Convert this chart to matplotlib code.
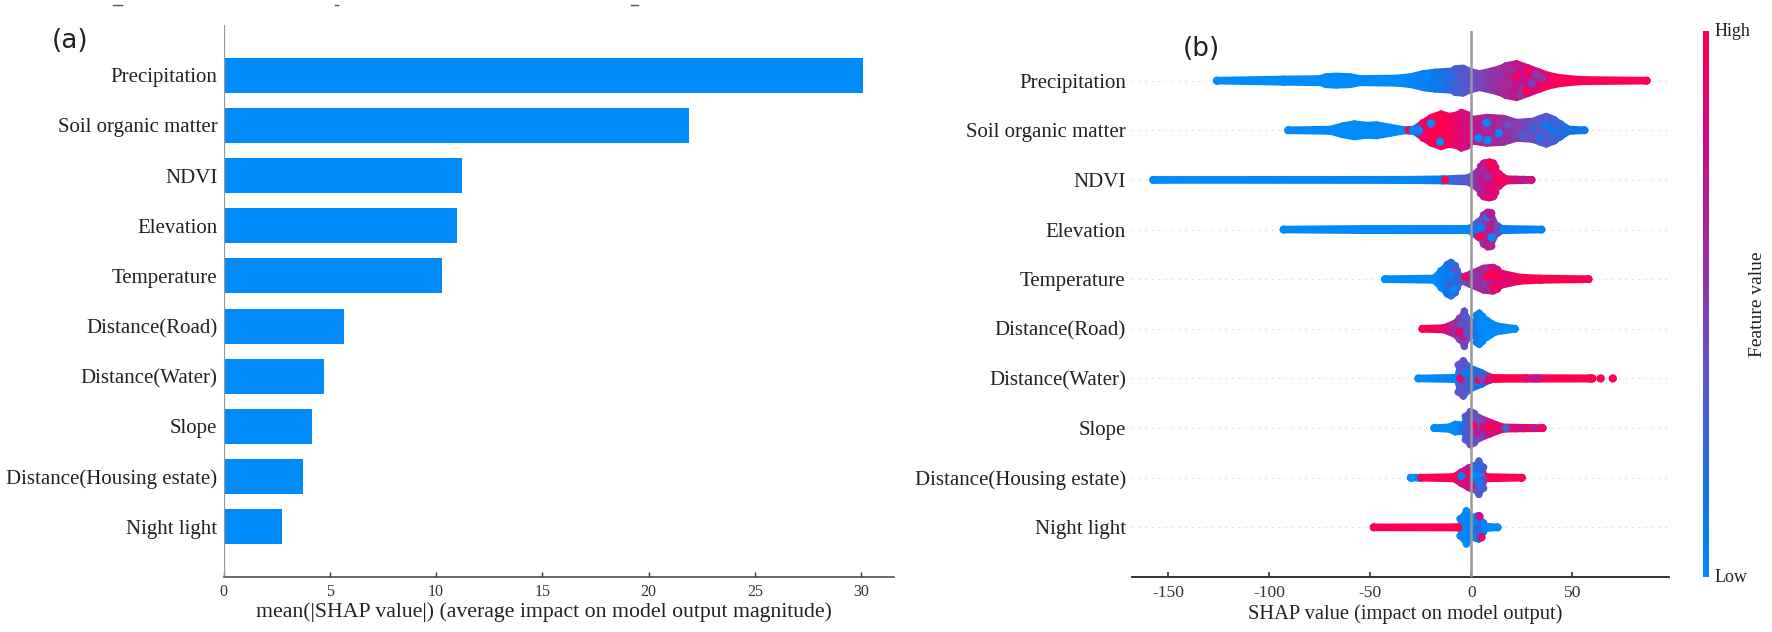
import numpy as np
import matplotlib
matplotlib.use('Agg')
import matplotlib.pyplot as plt
from matplotlib.colors import LinearSegmentedColormap
from matplotlib.cm import ScalarMappable
from matplotlib.lines import Line2D

plt.rcParams['font.family'] = ['Liberation Serif', 'DejaVu Serif']
plt.rcParams['axes.unicode_minus'] = False

W, H = 1772, 632

features = ['Precipitation', 'Soil organic matter', 'NDVI', 'Elevation', 'Temperature',
            'Distance(Road)', 'Distance(Water)', 'Slope', 'Distance(Housing estate)', 'Night light']
mean_shap = [30.1, 21.9, 11.2, 11.0, 10.3, 5.65, 4.75, 4.15, 3.75, 2.77]

# silhouette of each swarm: shap value, half height (px), feature value
precip = [(-126, 3.3, 0), (-93, 4.5, 0), (-75, 5, 0), (-72, 7, 0), (-67, 7.5, 0), (-60, 7, 0), (-55, 5, 0),
          (-37, 5.5, 0), (-30, 7, .03), (-24, 10, .06), (-18, 11.5, .12), (-10, 12.5, .22), (-8, 15, .3), (-4, 15.5, .33),
          (0, 12, .4), (4, 10, .45), (10.5, 13, .55), (14, 15, .62), (17, 18, .65), (22.5, 20, .75), (28, 16, .8),
          (33.7, 11.7, .85), (38, 8.5, .92), (43.8, 6, .97), (54, 4, 1), (86.8, 3.3, 1)]
soil = [(-90.7, 3.3, .02), (-70, 4, 0), (-63.6, 7.5, 0), (-58, 9.5, 0), (-52, 8, 0), (-47, 8.5, 0), (-40, 6, 0),
        (-33, 3.5, 0), (-28.9, 4, .1), (-24, 11, .9), (-20, 16, 1), (-15, 19.5, 1), (-11, 17, .95), (-8, 18, .9),
        (-5, 21, .85), (-2, 19, .8), (1, 14, .72), (7.5, 16, .65), (16, 15, .6), (22.5, 11, .5), (30, 12, .4),
        (34, 15, .35), (37, 17, .33), (41, 14, .28), (44, 10, .22), (48.6, 4, .15), (56, 3.3, .1)]
ndvi = [(-157.5, 3.3, 0), (-32, 3.5, .02), (-14, 4, .1), (-2, 5, .35), (3.4, 12, .6), (4.5, 17, .7), (6, 20, .75),
        (9, 21, .85), (11, 20, .85), (12, 16, .88), (13.5, 10, .9), (17.5, 4, .9), (29.8, 3.3, .8)]
elev = [(-93, 3.3, 0), (-52, 4, 0), (-1.6, 4, .03), (3.4, 11, .35), (6, 18, .6), (8, 20.5, .7), (10, 20, .7), (13, 7, .4),
        (15.5, 4, .08), (34.7, 3.3, .05)]
temp = [(-42.8, 3.3, 0), (-19, 4, 0), (-15, 12, .05), (-12, 18, .15), (-10, 20, .2), (-8, 17, .2), (-7, 12, .2),
        (-4.5, 5, .4), (0, 9, .55), (5.9, 14, .65), (10.8, 15, .75), (13, 13, .8), (15, 9, .85), (24, 5, .95),
        (34, 4, 1), (58, 3.3, 1)]
road = [(-24.3, 3.3, 1), (-14, 4, .9), (-9, 8, .65), (-5.9, 14, .5), (-3.5, 21, .45), (-1, 12, .4), (.7, 8, .2),
        (2.5, 17, .08), (3.9, 19, .05), (5.5, 16, .02), (7.5, 12, 0), (12.5, 6, 0), (21.5, 3.3, 0)]
water = [(-26.3, 3.3, 0), (-8, 4, .05), (-6.5, 17, .35), (-4, 21, .38), (0, 13, .2), (5, 9, .15), (9, 5, .6),
         (10.8, 3.8, 1), (60, 3.5, 1)]
slope = [(-18.4, 3.3, 0), (-11.4, 4, 0), (-8, 7, .02), (-4.7, 6, .1), (-3, 15, .3), (-.5, 20, .4), (1.5, 18, .4), (3.4, 14, .4),
         (9.2, 9, .8), (15.8, 4, .95), (35.3, 3.3, .95)]
housing = [(-30, 3.3, 0), (-25.4, 3.3, 0), (-25, 3.3, 1), (-9, 4, 1), (-5, 9, .8), (-1.5, 13, .7), (1.3, 15, .3),
           (3.7, 20, .3), (6, 14, .3), (7.5, 4, 1), (25, 3.3, 1)]
night = [(-48.4, 3.3, 1), (-6.4, 3.5, 1), (-5.6, 12, .05), (-2.5, 20, 0), (.3, 13, .05), (3.7, 15, .15), (6, 8, .1),
         (7.5, 4, 0), (13, 3.3, 0)]
swarms = [precip, soil, ndvi, elev, temp, road, water, slope, housing, night]

# individual dots that stand out: shap value, offset in row units, feature value
precip_dots = [(22, .1, .95), (25, -.15, .6), (28, .2, .95), (30, -.05, .5), (32, .12, .5), (35, .05, .55),
               (24, -.3, .55), (20, .2, .6), (27, -.2, 1), (36, -.12, 1), (18, -.1, .62), (14, .1, .58),
               (-10, .1, .2), (-16, -.1, .1), (-6, -.15, .28), (-3, .2, .35), (-22, .1, .02)]
soil_dots = [(7.5, .15, 0), (8, -.2, 0), (13.6, -.06, 0), (-15.5, -.23, 0), (3.5, -.16, 0), (-20, .14, 0),
             (18, .1, .4), (25, -.1, .3), (30, .05, .25), (34, -.15, .2), (37, .1, .1), (40, 0, .15),
             (-31, 0, 1), (-29, 0, .05), (-26, 0, .05)]
ndvi_dots = [(-13, 0, 1), (9, .3, 1), (9, -.3, .85), (6, .2, .65), (12, .1, .9), (8, .05, .55), (14, 0, 1),
             (22, 0, .75), (26, 0, .7)]
elev_dots = [(3.4, -.11, 1), (4.2, -.14, 1), (7.7, .25, .05), (10, -.16, 0), (2.5, 0, .1), (5, .05, .1),
             (8, -.3, .7), (9, .3, .7)]
temp_dots = [(-10, .1, .05), (-9, -.2, 0), (-11, -.1, .3), (-8, .2, .35), (-12, 0, .1), (2, .05, .55), (8, .05, 1),
             (10, .12, 1), (12, .08, 1), (6, -.1, .55), (9, -.2, .6), (11, -.18, 1), (-3, .05, .9), (14, 0, .95)]
road_dots = [(-5, .05, .3), (-3, .25, .3), (-4, -.15, .8), (-6, -.05, .9), (-2, -.1, .35), (4, .1, .02)]
water_dots = [(-5, .2, .35), (-4, -.25, .35), (-5.5, 0, .9), (-3, .1, .1), (3, -.05, 0), (3.4, -.03, .9),
              (7, -.03, .85), (5, .02, .4), (31, 0, .7), (33, 0, .75), (27, 0, .85), (59, 0, 1), (64, 0, 1), (70, 0, 1)]
slope_dots = [(-1, .2, .35), (-1, -.25, .35), (1, .05, .9), (3, -.1, .7), (-3, -.05, .3), (6, .02, .85), (9, .02, 1),
              (17, 0, .3), (22, 0, .8), (26, 0, .8), (31, 0, .7)]
housing_dots = [(-5, .03, .1), (-3, -.1, .85), (-1, .1, .9), (0, -.2, .8), (3, .2, .2), (3, -.25, .35), (5, 0, 0),
                (2, .05, 0), (6, -.05, .5), (4, -.1, .1)]
night_dots = [(4, .22, .8), (5, -.2, .85), (1, .1, .02), (2.5, -.05, .2)]
swarm_dots = [precip_dots, soil_dots, ndvi_dots, elev_dots, temp_dots, road_dots, water_dots, slope_dots,
              housing_dots, night_dots]

blue = '#008bfb'
red_blue = LinearSegmentedColormap.from_list(
    'red_blue', [(0, blue), (.15, '#1273e6'), (.35, '#5a56cc'), (.55, '#8f35a8'), (.78, '#cc0e88'), (1, '#ff0051')])


def place(left, right, top, bottom):
    return fig.add_axes([left / W, 1 - bottom / H, (right - left) / W, (bottom - top) / H])


fig = plt.figure(figsize=(W / 100, H / 100), dpi=100)
n = len(features)
ypos = np.arange(n)[::-1]

# (a) bars
ax1 = place(223.5, 894, 25, 577)
ax1.barh(ypos, mean_shap, height=.7, color=blue, zorder=2)
ax1.axvline(0, color='#999999', lw=1.6, zorder=3)
ax1.set_xlim(0, 31.55)
ax1.set_ylim(-1, n)
ax1.set_yticks(ypos)
ax1.set_yticklabels(features, fontsize=15, color='#222222')
ax1.tick_params(axis='y', length=0, pad=4.5)
ax1.tick_params(axis='x', direction='in', length=3.5, width=1, labelsize=11.5, pad=5, color='#333333', labelcolor='#333333')
ax1.set_xlabel('mean(|SHAP value|) (average impact on model output magnitude)', fontsize=15.7, color='#222222', labelpad=2)
ax1.xaxis.label.set_x((544 - 223.5) / (894 - 223.5))
for s in ['top', 'right', 'left']:
    ax1.spines[s].set_visible(False)
ax1.spines['bottom'].set_color('#444444')
ax1.spines['bottom'].set_linewidth(1.1)

# (b) summary swarm
ax2 = place(1132, 1669, 31, 577)
px_row = 546 / (n + 1)
for y, pts, dots in zip(ypos, swarms, swarm_dots):
    ax2.axhline(y, color='#cccccc', lw=.8, ls=(0, (1, 5)), zorder=0)
    x = np.array([p[0] for p in pts], dtype=float)
    h = np.array([p[1] for p in pts]) / px_row
    v = np.array([p[2] for p in pts], dtype=float)
    X = np.vstack([x, x])
    Y = np.vstack([y - h, y + h])
    C = np.vstack([v, v])
    ax2.pcolormesh(X, Y, C, cmap=red_blue, vmin=0, vmax=1, shading='gouraud', zorder=2)
    ax2.scatter(x, np.full_like(x, y), c=v, cmap=red_blue, vmin=0, vmax=1, s=30, lw=0, zorder=2)
    ax2.scatter(x, y + h - .07, c=v, cmap=red_blue, vmin=0, vmax=1, s=30, lw=0, zorder=2)
    ax2.scatter(x, y - h + .07, c=v, cmap=red_blue, vmin=0, vmax=1, s=30, lw=0, zorder=2)
    dx = [d[0] for d in dots]
    dy = [y + d[1] for d in dots]
    dv = [d[2] for d in dots]
    ax2.scatter(dx, dy, c=dv, cmap=red_blue, vmin=0, vmax=1, s=36, lw=0, zorder=3)
ax2.axvline(0, color='#999999', lw=1.8, zorder=4)
ax2.set_xlim(-168, 97.8)
ax2.set_ylim(-1, n)
ax2.set_yticks(ypos)
ax2.set_yticklabels(features, fontsize=15, color='#222222')
ax2.tick_params(axis='y', length=0, pad=4.5)
ax2.set_xticks([-150, -100, -50, 0, 50])
ax2.tick_params(axis='x', direction='in', length=3.5, width=1.1, labelsize=12.6, pad=6, color='#222222', labelcolor='#333333')
ax2.set_xlabel('SHAP value (impact on model output)', fontsize=14.8, color='#222222', labelpad=2)
ax2.xaxis.label.set_x((1405 - 1132) / (1669 - 1132))
for s in ['top', 'right', 'left']:
    ax2.spines[s].set_visible(False)
ax2.spines['bottom'].set_color('#222222')
ax2.spines['bottom'].set_linewidth(1.3)

# colour bar
cax = place(1702.5, 1709, 31, 577)
cb = fig.colorbar(ScalarMappable(cmap=red_blue), cax=cax)
cb.set_ticks([])
cb.outline.set_visible(False)
fig.text(1715 / W, 1 - 32 / H, 'High', fontsize=13, color='#222222', va='center')
fig.text(1715 / W, 1 - 578 / H, 'Low', fontsize=13, color='#222222', va='center')
fig.text(1757 / W, 1 - 304 / H, 'Feature value', fontsize=14, color='#222222', rotation=90, va='center', ha='center')

# panel letters
fig.text(52 / W, 1 - 41 / H, '(a)', fontsize=19, family='DejaVu Sans', color='#222222', va='center')
fig.text(1183 / W, 1 - 49 / H, '(b)', fontsize=19, family='DejaVu Sans', color='#222222', va='center')

# scraps of the cropped line above the panels
for x0, x1 in [(113, 122), (335, 338), (631, 638)]:
    fig.add_artist(Line2D([x0 / W, x1 / W], [1 - 5 / H, 1 - 5 / H], color='#555555', lw=1))

fig.savefig('out.png', dpi=100)
